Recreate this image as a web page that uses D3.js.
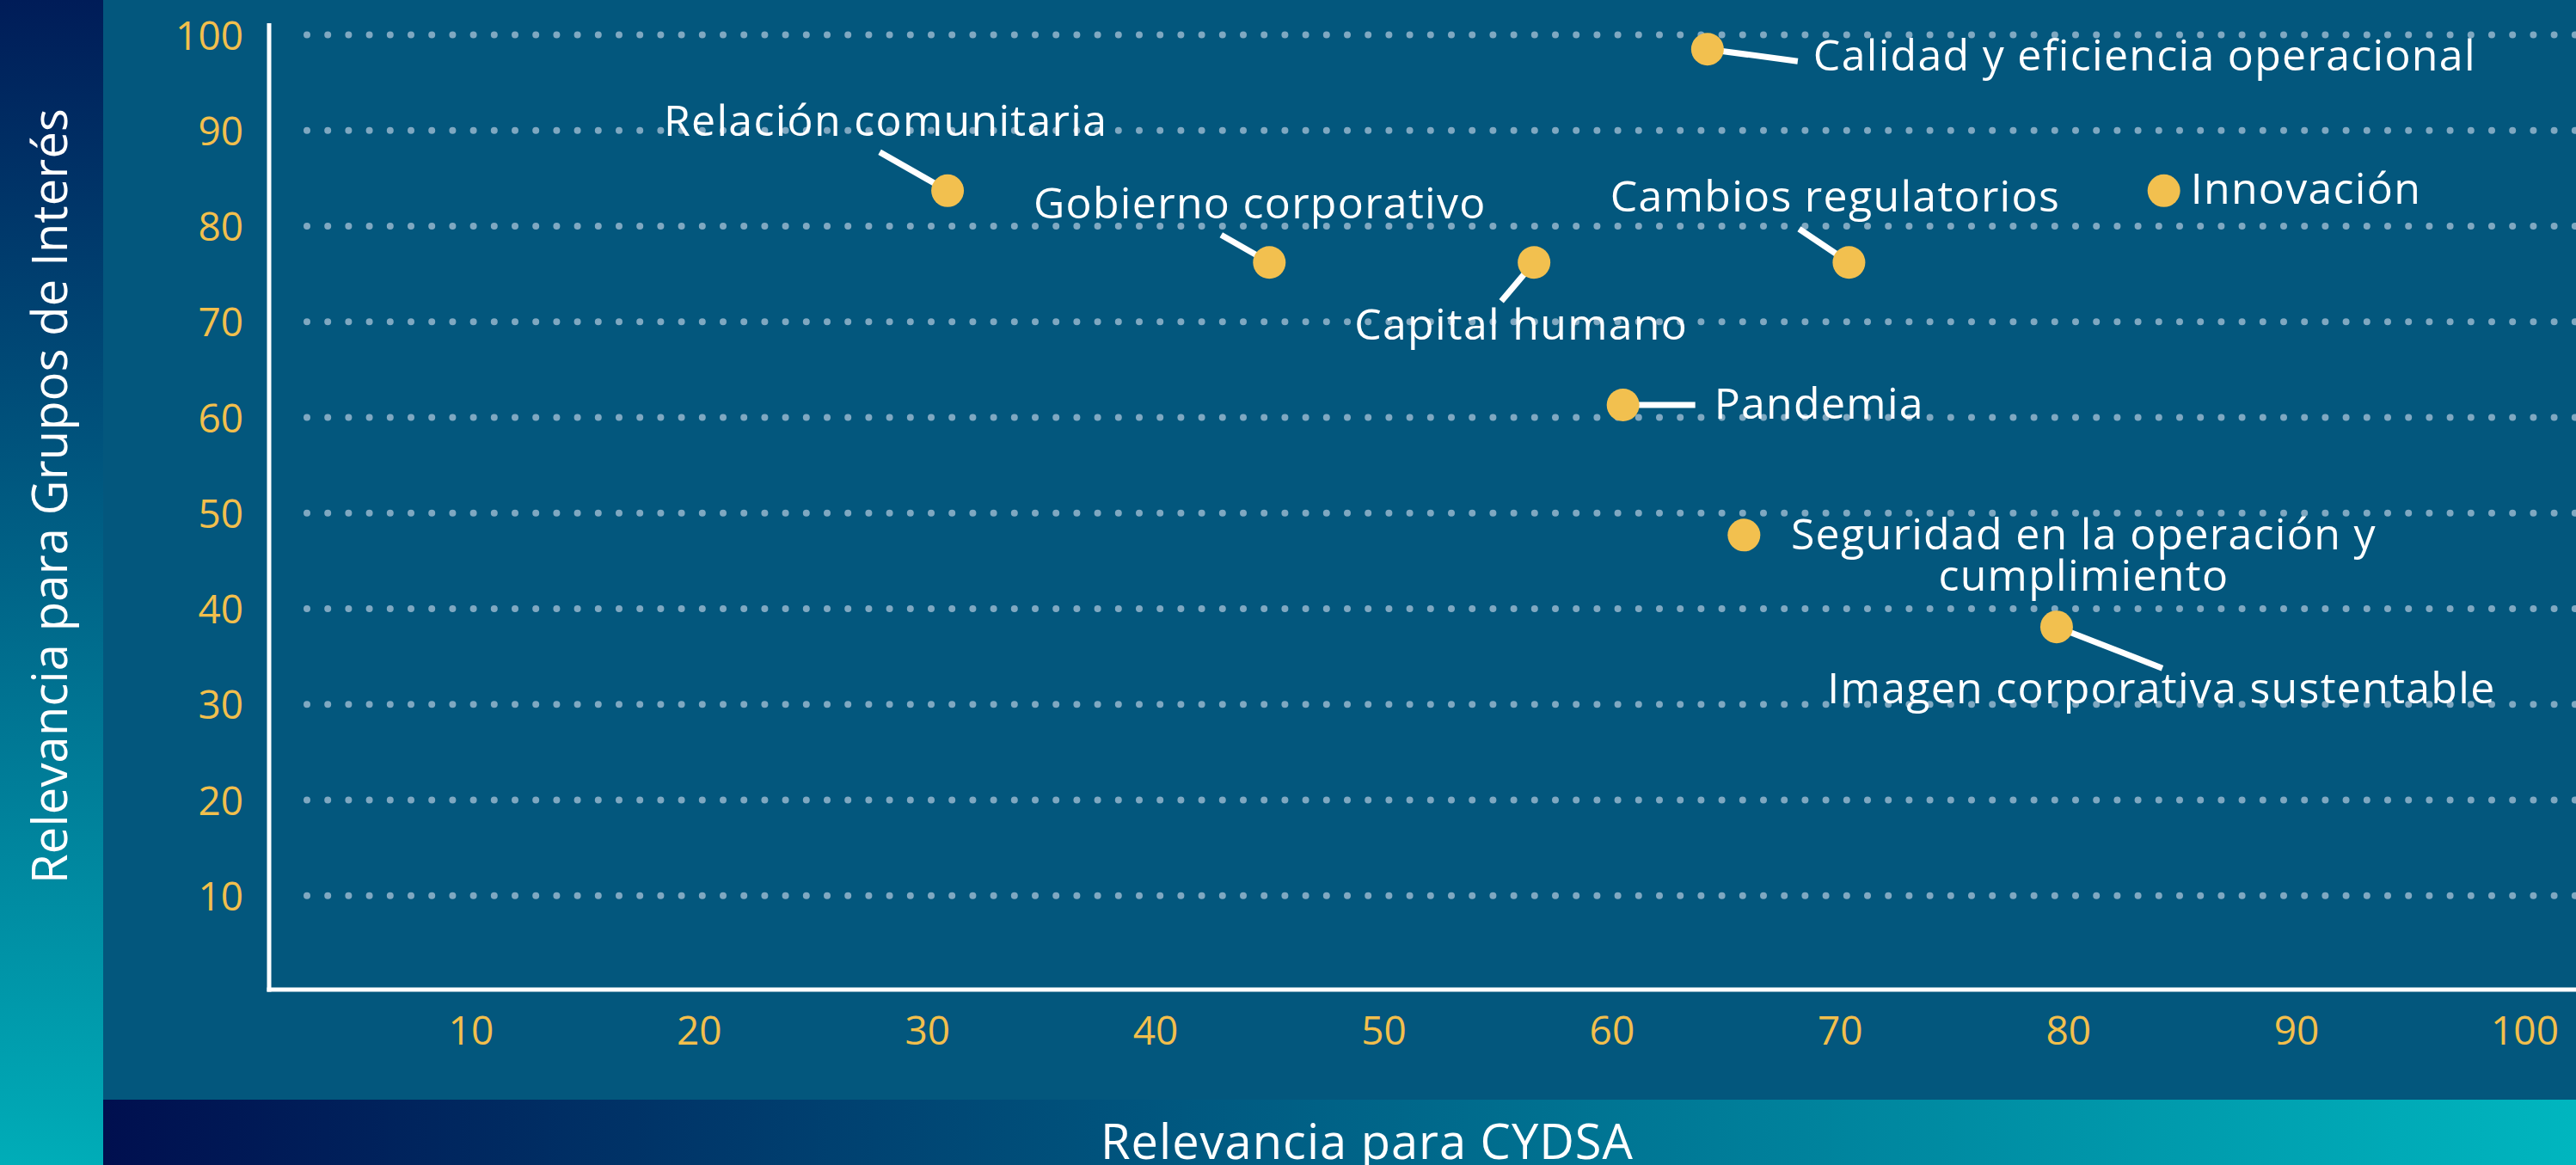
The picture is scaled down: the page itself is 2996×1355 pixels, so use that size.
<!DOCTYPE html>
<html lang="es">
<head>
<meta charset="utf-8">
<title>Matriz de materialidad</title>
<script src="https://cdn.jsdelivr.net/npm/d3@7"></script>
<style>
  html, body { margin: 0; padding: 0; background: #03577d; }
  svg { display: block; }
</style>
</head>
<body>
<div id="chart"></div>
<script>
// --- data ---
const topics = [
  'Calidad y eficiencia operacional',
  'Relación comunitaria',
  'Gobierno corporativo',
  'Capital humano',
  'Cambios regulatorios',
  'Innovación',
  'Pandemia',
  'Seguridad en la operación y\ncumplimiento',
  'Imagen corporativa sustentable'
];
const relevanciaCydsa = [64.2, 30.9, 45.0, 56.6, 70.4, 84.2, 60.5, 65.8, 79.5];
const relevanciaGrupos = [98.5, 83.7, 76.2, 76.2, 76.2, 83.7, 61.3, 47.7, 38.1];
const tickValues = [10, 20, 30, 40, 50, 60, 70, 80, 90, 100];
const xTitle = 'Relevancia para CYDSA';
const yTitle = 'Relevancia para Grupos de Interés';

// label placement relative to each point (px)
const labelLayout = [
  { leader: [105, 14], anchor: 'start', dx: 123, dy: 25 },
  { leader: [-79, -45], anchor: 'middle', dx: -72, dy: -64 },
  { leader: [-56, -32], anchor: 'middle', dx: -11, dy: -51 },
  { leader: [-38, 45], anchor: 'middle', dx: -15, dy: 90 },
  { leader: [-58, -39], anchor: 'middle', dx: -16, dy: -59 },
  { leader: null, anchor: 'start', dx: 31, dy: 15 },
  { leader: [84, 0], anchor: 'start', dx: 106, dy: 16 },
  { leader: null, anchor: 'middle', dx: 395, dy: 17 },
  { leader: [123, 48], anchor: 'middle', dx: 122, dy: 89 }
];

const W = 2996, H = 1355;
const SIDE_W = 120;          // left gradient panel
const BAND_Y = 1279;         // bottom gradient band
const AXIS_X = 313, AXIS_Y = 1151;
const FONT = "'Open Sans', 'Noto Sans', sans-serif";
const YELLOW = '#f2bf4c';

const svg = d3.select('#chart').append('svg')
  .attr('width', W).attr('height', H)
  .attr('viewBox', `0 0 ${W} ${H}`);

const defs = svg.append('defs');
const sideGrad = defs.append('linearGradient').attr('id', 'side-grad')
  .attr('x1', 0).attr('x2', 0).attr('y1', 0).attr('y2', 1);
sideGrad.append('stop').attr('offset', '0%').attr('stop-color', '#001c58');
sideGrad.append('stop').attr('offset', '100%').attr('stop-color', '#00adb8');
const bandGrad = defs.append('linearGradient').attr('id', 'band-grad')
  .attr('x1', 0).attr('x2', 1).attr('y1', 0).attr('y2', 0);
bandGrad.append('stop').attr('offset', '0%').attr('stop-color', '#000f4f');
bandGrad.append('stop').attr('offset', '100%').attr('stop-color', '#00b6bf');

svg.append('rect').attr('width', W).attr('height', H).attr('fill', '#03577d');
svg.append('rect').attr('width', SIDE_W).attr('height', H).attr('fill', 'url(#side-grad)');
svg.append('rect').attr('x', SIDE_W).attr('y', BAND_Y)
  .attr('width', W - SIDE_W).attr('height', H - BAND_Y).attr('fill', 'url(#band-grad)');

const x = d3.scaleLinear().domain([0, 100]).range([282, 2936]);
const y = d3.scaleLinear().domain([0, 100]).range([1153, 40.5]);

// dotted gridlines
svg.append('g').attr('class', 'grid')
  .selectAll('line')
  .data(tickValues)
  .enter()
  .append('line')
  .attr('x1', 357).attr('x2', W + 10)
  .attr('y1', d => y(d)).attr('y2', d => y(d))
  .attr('stroke', '#7fa8c1')
  .attr('stroke-width', 8)
  .attr('stroke-linecap', 'round')
  .attr('stroke-dasharray', '0 24.2');

// axis lines
svg.append('line').attr('x1', AXIS_X).attr('x2', AXIS_X).attr('y1', 27).attr('y2', AXIS_Y + 2.5)
  .attr('stroke', '#fff').attr('stroke-width', 5);
svg.append('line').attr('x1', AXIS_X - 2.5).attr('x2', W).attr('y1', AXIS_Y).attr('y2', AXIS_Y)
  .attr('stroke', '#fff').attr('stroke-width', 5);

// tick labels
const yAxisG = svg.append('g')
  .attr('transform', `translate(${AXIS_X},0)`)
  .call(d3.axisLeft(y).tickValues(tickValues).tickSize(0).tickPadding(30));
const xAxisG = svg.append('g')
  .attr('transform', `translate(0,${AXIS_Y})`)
  .call(d3.axisBottom(x).tickValues(tickValues).tickSize(0).tickPadding(31));
[yAxisG, xAxisG].forEach(ax => {
  ax.select('.domain').remove();
  ax.selectAll('text')
    .attr('fill', YELLOW)
    .attr('font-family', FONT)
    .attr('font-size', 46);
});
yAxisG.selectAll('text').attr('dy', '0.36em');

// points, leaders and labels
const points = topics.map((t, i) => ({
  name: t,
  cx: x(relevanciaCydsa[i]),
  cy: y(relevanciaGrupos[i]),
  layout: labelLayout[i]
}));

const marks = svg.append('g').attr('class', 'marks');
marks.selectAll('.leader')
  .data(points.filter(d => d.layout.leader))
  .enter()
  .append('line')
  .attr('class', 'leader')
  .attr('x1', d => d.cx).attr('y1', d => d.cy)
  .attr('x2', d => d.cx + d.layout.leader[0])
  .attr('y2', d => d.cy + d.layout.leader[1])
  .attr('stroke', '#fff')
  .attr('stroke-width', 7);

marks.selectAll('.dot')
  .data(points)
  .enter()
  .append('circle')
  .attr('class', 'dot')
  .attr('cx', d => d.cx).attr('cy', d => d.cy)
  .attr('r', 19)
  .attr('fill', '#f2c04f');

const labels = marks.selectAll('.label')
  .data(points)
  .enter()
  .append('text')
  .attr('class', 'label')
  .attr('x', d => d.cx + d.layout.dx)
  .attr('y', d => d.cy + d.layout.dy)
  .attr('text-anchor', d => d.layout.anchor)
  .attr('fill', '#fff')
  .attr('font-family', FONT)
  .attr('font-size', 50)
  .attr('letter-spacing', 1.3);

labels.each(function (d) {
  const lines = d.name.split('\n');
  d3.select(this).selectAll('tspan')
    .data(lines)
    .enter()
    .append('tspan')
    .attr('x', d.cx + d.layout.dx)
    .attr('dy', (_, i) => i === 0 ? 0 : 48)
    .text(s => s);
});

// axis titles
svg.append('text')
  .attr('x', 1590).attr('y', 1348)
  .attr('text-anchor', 'middle')
  .attr('fill', '#fff')
  .attr('font-family', FONT)
  .attr('font-size', 56)
  .attr('letter-spacing', 1)
  .text(xTitle);

svg.append('text')
  .attr('transform', 'translate(78,577) rotate(-90)')
  .attr('text-anchor', 'middle')
  .attr('fill', '#fff')
  .attr('font-family', FONT)
  .attr('font-size', 56)
  .attr('letter-spacing', 0.2)
  .text(yTitle);
</script>
</body>
</html>
